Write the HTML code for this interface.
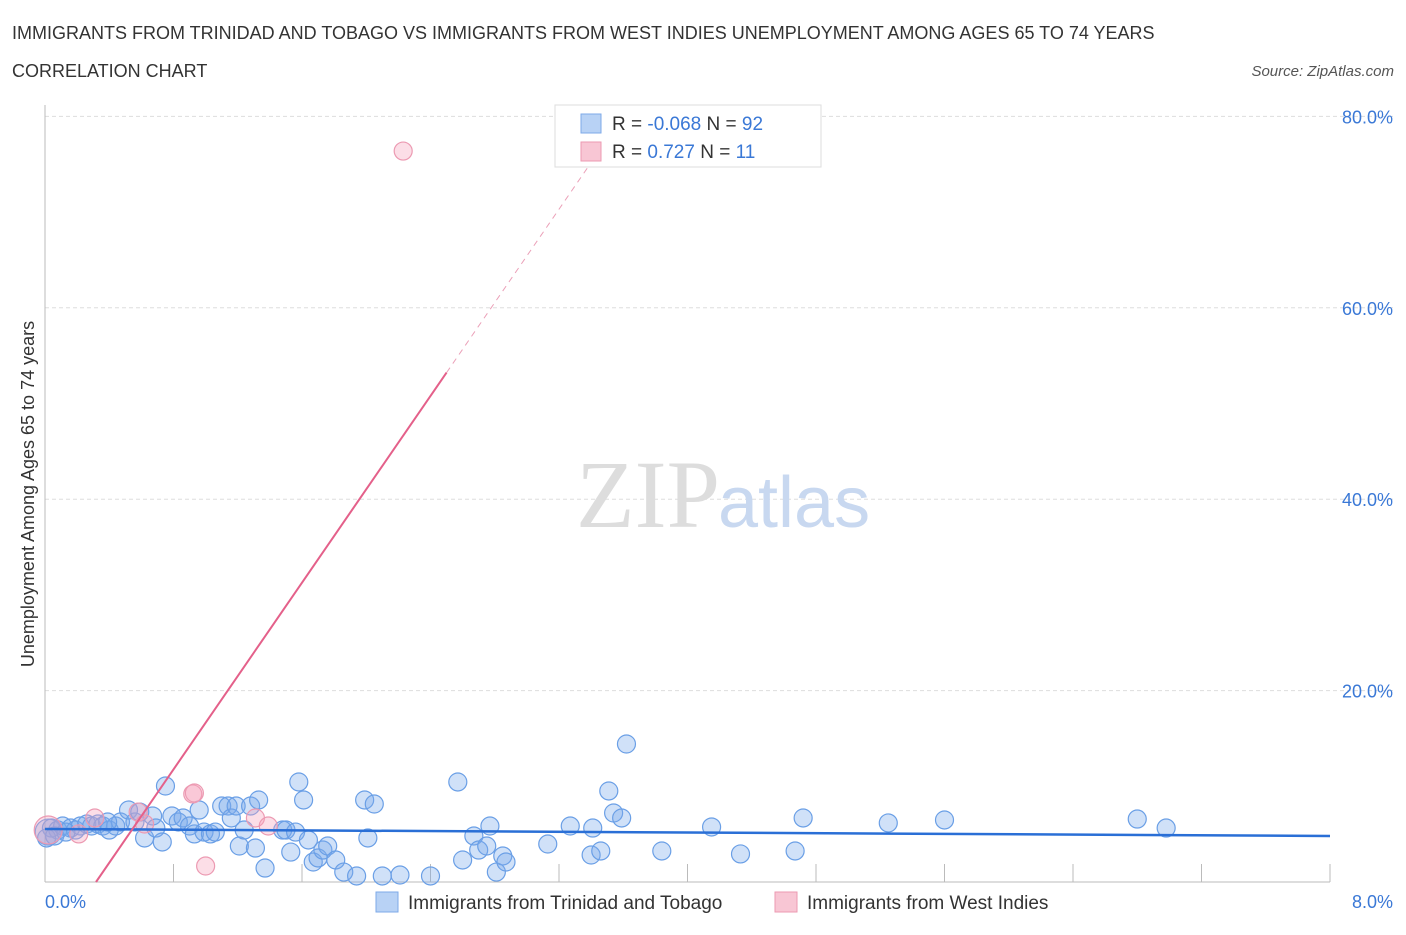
<!DOCTYPE html>
<html><head><meta charset="utf-8"><style>
body{margin:0;background:#fff;font-family:"Liberation Sans",sans-serif}
</style></head><body>
<svg width="1406" height="930" xmlns="http://www.w3.org/2000/svg" font-family="Liberation Sans, sans-serif">
<text x="12" y="39" font-size="18" fill="#333">IMMIGRANTS FROM TRINIDAD AND TOBAGO VS IMMIGRANTS FROM WEST INDIES UNEMPLOYMENT AMONG AGES 65 TO 74 YEARS</text>
<text x="12" y="77" font-size="18" fill="#333">CORRELATION CHART</text>
<text x="1394" y="76" font-size="15" fill="#555" font-style="italic" text-anchor="end">Source: ZipAtlas.com</text>
<g id="grid"></g>
<text x="720" y="527" font-size="96" font-family="Liberation Serif, serif" fill="#ddd" text-anchor="end">ZIP</text>
<text x="718" y="527" font-size="72" fill="#c8d8f0">atlas</text>
<g id="axes"></g>
<g id="marks"></g>
<text x="34" y="494" font-size="18" fill="#333" text-anchor="middle" transform="rotate(-90 34 494)">Unemployment Among Ages 65 to 74 years</text>
<text x="45" y="908" font-size="18" fill="#3a78d6">0.0%</text>
<text x="1393" y="908" font-size="18" fill="#3a78d6" text-anchor="end">8.0%</text>
<g>
<rect x="555" y="105" width="266" height="62" fill="#fff" stroke="#ddd"/>
<rect x="581" y="114" width="20" height="19" fill="#b8d2f5" stroke="#7eaae8"/>
<rect x="581" y="142" width="20" height="19" fill="#f8c6d4" stroke="#ec9ab2"/>
<text x="612" y="130" font-size="19" fill="#333">R = <tspan fill="#3a78d6">-0.068</tspan>   N = <tspan fill="#3a78d6">92</tspan></text>
<text x="612" y="158" font-size="19" fill="#333">R =   <tspan fill="#3a78d6">0.727</tspan>   N =  <tspan fill="#3a78d6">11</tspan></text>
</g>
<g>
<rect x="376" y="892" width="22" height="20" fill="#b8d2f5" stroke="#7eaae8"/>
<text x="408" y="909" font-size="19" fill="#333">Immigrants from Trinidad and Tobago</text>
<rect x="775" y="892" width="22" height="20" fill="#f8c6d4" stroke="#ec9ab2"/>
<text x="807" y="909" font-size="19" fill="#333">Immigrants from West Indies</text>
</g>
</svg>
<script>
const yTicks=[20,40,60,80];
const yTickLabels=["20.0%","40.0%","60.0%","80.0%"];
const blueX=[.02,.04,.08,.11,.16,.19,.22,.26,.29,.33,.36,.40,.44,.47,.52,.56,.59,.62,.67,.69,.73,.75,.79,.83,.86,.90,.93,.96,.99,1.03,1.06,1.10,1.14,1.16,1.19,1.21,1.24,1.28,1.31,1.33,1.37,1.48,1.50,1.53,1.56,1.58,1.61,1.64,1.67,1.70,1.73,1.76,1.81,1.86,1.94,1.99,2.01,2.05,2.10,2.21,2.40,2.57,2.60,2.67,2.70,2.75,2.77,2.81,2.85,2.87,3.13,3.27,3.40,3.41,3.46,3.51,3.54,3.59,3.62,3.84,4.15,4.33,4.67,4.72,5.25,5.60,6.80,6.98,.01,.06,.13,.39];
const blueY=[5.22,5.64,5.43,5.85,5.64,5.43,5.85,6.06,5.85,6.06,5.85,5.43,5.85,6.27,7.52,6.27,7.31,4.60,6.90,5.64,4.18,10.03,6.90,6.27,6.69,5.85,5.02,7.52,5.22,5.02,5.22,7.94,7.94,6.69,7.94,3.76,5.43,7.94,3.55,8.57,1.46,5.43,5.43,3.13,5.22,10.45,8.57,4.39,2.09,2.51,3.34,3.76,2.30,1.04,.63,8.57,4.60,8.15,.63,.73,.63,10.45,2.30,4.81,3.34,3.76,5.85,1.04,2.72,2.09,3.97,5.85,2.82,5.64,3.24,9.51,7.21,6.69,14.42,3.24,5.75,2.93,3.24,6.69,6.17,6.48,6.58,5.64,4.60,4.81,5.22,6.27];
const pinkX=[.02,.21,.31,.58,.62,.92,.93,1.00,1.31,1.39,2.23];
const pinkY=[5.43,5.02,6.69,7.31,6.06,9.20,9.30,1.67,6.69,5.85,76.38];
const blueTrend=[5.54,4.81];
const pinkSlope=24.39, pinkX0=0.3176;
const NS="http://www.w3.org/2000/svg";
const X0=45,X1=1330,Y0=882;
const sx=v=>X0+v/8*(X1-X0);
const sy=v=>Y0-v*9.57;
function mk(tag,attrs,parent){const e=document.createElementNS(NS,tag);for(const k in attrs)e.setAttribute(k,attrs[k]);document.getElementById(parent).appendChild(e);return e;}
yTicks.forEach((t,i)=>{
 const l=mk('line',{x1:X0,x2:1393,y1:sy(t),y2:sy(t),stroke:'#ddd','stroke-dasharray':'4,3'},'grid');
 
 
 const tx=mk('text',{x:1393,y:sy(t)+7,'font-size':18,fill:'#3a78d6','text-anchor':'end'},'grid');
 tx.textContent=yTickLabels[i];
 
 
});
let a=mk('line',{x1:X0,x2:X0,y1:105,y2:Y0,stroke:'#bbb'},'axes');


a=mk('line',{x1:X0,x2:X1,y1:Y0,y2:Y0,stroke:'#bbb'},'axes');


for(let i=1;i<=10;i++){const t=mk('line',{x1:sx(i*0.8),x2:sx(i*0.8),y1:Y0-18,y2:Y0,stroke:'#bbb'},'axes');
 
 }
blueX.forEach((x,i)=>{const c=mk('circle',{cx:sx(x),cy:sy(blueY[i]),r:i===0?13:9,fill:'rgba(120,170,235,0.35)',stroke:'#6a9fe6','stroke-width':1.2},'marks');
 
 });
pinkX.forEach((x,i)=>{const c=mk('circle',{cx:sx(x),cy:sy(pinkY[i]),r:i===0?14:9,fill:'rgba(245,160,185,0.35)',stroke:'#ec9ab2','stroke-width':1.2},'marks');
 
 });
let l=mk('line',{x1:sx(0),y1:sy(blueTrend[0]),x2:sx(8),y2:sy(blueTrend[1]),stroke:'#2a6fd6','stroke-width':2.5},'marks');


const pf=x=>pinkSlope*(x-pinkX0);
l=mk('line',{x1:sx(pinkX0),y1:sy(0),x2:sx(2.5),y2:sy(pf(2.5)),stroke:'#e4608a','stroke-width':2},'marks');


const xe=pinkX0+80/pinkSlope;
l=mk('line',{x1:sx(2.5),y1:sy(pf(2.5)),x2:sx(xe),y2:sy(80),stroke:'#eba0b8','stroke-width':1,'stroke-dasharray':'6,5'},'marks');


</script>
</body></html>
